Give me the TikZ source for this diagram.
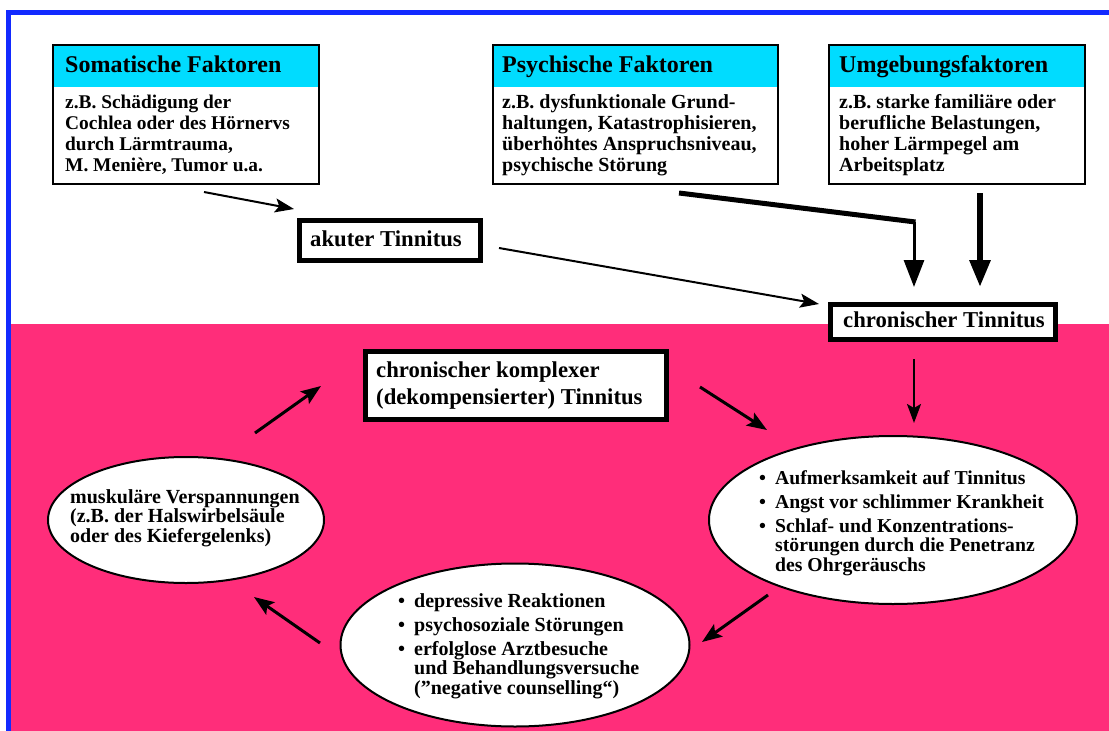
\documentclass[tikz,border=0pt]{standalone}
\usepackage{fontspec}
\setmainfont{Liberation Serif}
\usetikzlibrary{arrows.meta,shapes.geometric}
\definecolor{bordblue}{RGB}{18,42,255}
\definecolor{headcyan}{RGB}{0,220,255}
\definecolor{bgpink}{RGB}{255,45,122}
\newcommand{\mlines}[1]{\vtop{\halign{##\hfil\cr#1\crcr}}}
\newcommand{\blines}[1]{\vtop{\halign{\hbox to 16pt{##\hfil}&##\hfil\cr#1\crcr}}}
\newcommand{\itemgap}{\noalign{\vskip4.5pt}}
\begin{document}
\begin{tikzpicture}[x=1pt,y=-1pt,
  fbox/.style={draw=black, line width=2.5pt, inner sep=0pt, outer sep=0pt, anchor=north west},
  tbox/.style={draw=black, fill=white, line width=4.5pt, inner sep=0pt, outer sep=0pt, anchor=north west},
  ell/.style={ellipse, draw=black, fill=white, line width=2pt, inner sep=0pt, outer sep=0pt},
  headtxt/.style={anchor=base west, inner sep=0pt, font=\bfseries\fontsize{24}{26}\selectfont},
  bodytxt/.style={anchor=base west, inner sep=0pt, font=\bfseries\fontsize{20}{21.3}\selectfont},
  titletxt/.style={anchor=base west, inner sep=0pt, font=\bfseries\fontsize{22.7}{27}\selectfont},
  elltxt/.style={anchor=base west, inner sep=0pt, font=\bfseries\fontsize{20}{19.5}\selectfont},
  conn/.style={line width=2pt, -{Stealth[length=19pt,width=14pt,inset=4pt]}},
  cyc/.style={line width=3pt, -{Stealth[length=20pt,width=15pt,inset=4pt]}},
  bigarr/.style={-{Triangle[length=27pt,width=20pt]}}
]
\useasboundingbox (0,0) rectangle (1109,731);
\fill[white] (0,0) rectangle (1109,731);
\fill[bgpink] (11,324) rectangle (1109,731);
\draw[bordblue, line width=5pt, line join=miter] (8.5,731) -- (8.5,12) -- (1109,12);

% factor boxes
\fill[headcyan] (53,45) rectangle (319,87);
\fill[headcyan] (493,45) rectangle (778,87);
\fill[headcyan] (829,45) rectangle (1085,87);
\node[fbox, minimum width=266pt, minimum height=139pt] (soma) at (53,45) {};
\node[fbox, minimum width=285pt, minimum height=139pt] (psych) at (493,45) {};
\node[fbox, minimum width=256pt, minimum height=139pt] (umg) at (829,45) {};

\node[headtxt] (somaH) at (65,72.7) {Somatische Faktoren};
\node[bodytxt, font=\bfseries\fontsize{19.4}{21.3}\selectfont] (somaT) at (65,108) {\mlines{z.B. Schädigung der\cr Cochlea oder des Hörnervs\cr durch Lärmtrauma,\cr M. Menière, Tumor u.a.}};
\node[headtxt] (psychH) at (502,72.7) {Psychische Faktoren};
\node[bodytxt] (psychT) at (502,108) {\mlines{z.B. dysfunktionale Grund-\cr haltungen, Katastrophisieren,\cr überhöhtes Anspruchsniveau,\cr psychische Störung}};
\node[headtxt] (umgH) at (839,72.7) {Umgebungsfaktoren};
\node[bodytxt] (umgT) at (839,108) {\mlines{z.B. starke familiäre oder\cr berufliche Belastungen,\cr hoher Lärmpegel am\cr Arbeitsplatz}};

% tinnitus boxes
\node[tbox, minimum width=181pt, minimum height=40pt] (akut) at (299.5,220.5) {};
\node[titletxt] (akutT) at (310,246) {akuter Tinnitus};
\node[tbox, minimum width=225pt, minimum height=35pt] (chron) at (830.5,304.5) {};
\node[titletxt] (chronT) at (843,327) {chronischer Tinnitus};
\node[tbox, minimum width=301pt, minimum height=68pt] (kompl) at (365.5,351.5) {};
\node[titletxt] (komplT) at (376,377) {\mlines{chronischer komplexer\cr (dekompensierter) Tinnitus}};

% ellipses
\node[ell, minimum width=368pt, minimum height=168pt] (ellR) at (893,520) {};
\node[elltxt, font=\bfseries\fontsize{19.7}{19.5}\selectfont] (ellRT) at (759,484) {\blines{\textbullet&Aufmerksamkeit auf Tinnitus\cr\itemgap \textbullet&Angst vor schlimmer Krankheit\cr\itemgap \textbullet&Schlaf- und Konzentrations-\cr &störungen durch die Penetranz\cr &des Ohrgeräuschs}};
\node[ell, minimum width=349pt, minimum height=163pt] (ellB) at (515,645) {};
\node[elltxt] (ellBT) at (398,607) {\blines{\textbullet&depressive Reaktionen\cr\itemgap \textbullet&psychosoziale Störungen\cr\itemgap \textbullet&erfolglose Arztbesuche\cr &und Behandlungsversuche\cr &(”negative counselling“)}};
\node[ell, minimum width=276pt, minimum height=126pt] (ellL) at (186,520) {};
\node[elltxt] (ellLT) at (70,503) {\mlines{muskuläre Verspannungen\cr (z.B. der Halswirbelsäule\cr oder des Kiefergelenks)}};

% connector end points
\coordinate (c1s) at (204,192); \coordinate (c1e) at (294,209);
\coordinate (c2s) at (499,248); \coordinate (c2e) at (819,304);
\coordinate (c3s) at (679,193); \coordinate (c3k) at (914,222); \coordinate (c3e) at (914,287);
\coordinate (c4s) at (980,193); \coordinate (c4e) at (980,287);
\coordinate (c5s) at (914,359); \coordinate (c5e) at (914,423);
\coordinate (c6s) at (700,387); \coordinate (c6e) at (767,430);
\coordinate (c7s) at (768,595); \coordinate (c7e) at (702,642);
\coordinate (c8s) at (320,643); \coordinate (c8e) at (254,597);
\coordinate (c9s) at (255,433); \coordinate (c9e) at (321,386);

\draw[conn] (c1s) -- (c1e);
\draw[conn] (c2s) -- (c2e);
\draw[line width=5pt] (c3s) -- ([xshift=1.5pt]c3k);
\draw[line width=3pt, bigarr] (c3k) -- (c3e);
\draw[line width=6pt, bigarr] (c4s) -- (c4e);
\draw[conn] (c5s) -- (c5e);
\draw[cyc] (c6s) -- (c6e);
\draw[cyc] (c7s) -- (c7e);
\draw[cyc] (c8s) -- (c8e);
\draw[cyc] (c9s) -- (c9e);
\end{tikzpicture}
\end{document}
